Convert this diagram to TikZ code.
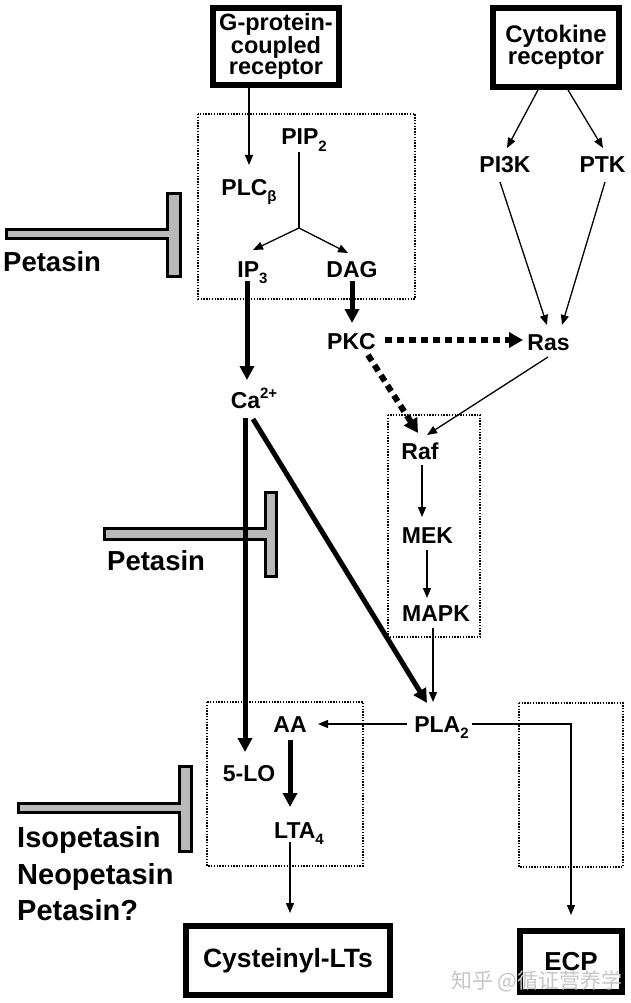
\documentclass[tikz,border=0pt]{standalone}
\usepackage{fontspec}
\setmainfont{Liberation Sans}
\newfontfamily\cjkfont{Noto Sans CJK SC}
\usetikzlibrary{arrows.meta,calc}
\newcommand\sbx[1]{\raisebox{-0.28em}{\fontsize{15}{15}\selectfont #1}}
\newcommand\spx[1]{\raisebox{0.42em}{\fontsize{15}{15}\selectfont #1}}
\begin{document}
\begin{tikzpicture}[x=1pt,y=-1pt,
 lbl/.style={inner sep=0pt, anchor=base, font=\bfseries\fontsize{23}{23}\selectfont},
 biglbl/.style={inner sep=0pt, anchor=base west, font=\bfseries\fontsize{27.5}{27.5}\selectfont},
 hugelbl/.style={inner sep=0pt, anchor=base west, font=\bfseries\fontsize{29}{29}\selectfont},
 endbox/.style={draw, line width=6pt, inner sep=0pt, align=center},
 thinarr/.style={line width=1.3pt, -{Triangle[length=10pt,width=8pt]}},
 thickarr/.style={line width=5pt, -{Triangle[length=14pt,width=14pt]}},
 dasharr/.style={line width=6pt, dash pattern=on 7pt off 5pt, -{Triangle[length=14pt,width=15pt]}},
 dotbox/.style={line width=1.4pt, dash pattern=on 1.4pt off 1.4pt},
 inhib/.style={fill=gray!55, draw, line width=3pt, line join=miter}]
\useasboundingbox (0,0) rectangle (630,1003);

% dotted compartments
\draw[dotbox] (198,114) rectangle (415,299);
\draw[dotbox] (388,415) rectangle (480,637);
\draw[dotbox] (207,702) rectangle (363,866);
\draw[dotbox] (519,703) rectangle (623,867);

% receptor and output boxes
\node[endbox, minimum width=126pt, minimum height=77pt,
      font=\bfseries\fontsize{23.5}{19}\selectfont] (gpcr) at (276,46.5) {G-protein-\\coupled\\receptor};
\node[endbox, minimum width=126pt, minimum height=79pt,
      font=\bfseries\fontsize{24}{19.5}\selectfont] (cyto) at (556,47.5) {Cytokine\\receptor};
\node[endbox, minimum width=204pt, minimum height=69pt,
      font=\bfseries\fontsize{26.5}{26.5}\selectfont] (cys) at (288,960.5) {Cysteinyl-LTs};
\node[endbox, minimum width=102pt, minimum height=61pt,
      font=\bfseries\fontsize{26}{26}\selectfont] (ecp) at (571,961.5) {ECP};

% labels
\node[lbl] (pip) at (304,145) {PIP\sbx{2}};
\node[lbl] (plc) at (249,195) {PLC\sbx{β}};
\node[lbl] (ip3) at (252.5,277) {IP\sbx{3}};
\node[lbl] (dag) at (352,277) {DAG};
\node[lbl] (pkc) at (351.5,349) {PKC};
\node[lbl] (ras) at (548.5,350) {Ras};
\node[lbl] (pi3k) at (505,172) {PI3K};
\node[lbl] (ptk) at (602.5,172) {PTK};
\node[lbl] (ca) at (254,408) {Ca\spx{2+}};
\node[lbl] (raf) at (420,459) {Raf};
\node[lbl] (mek) at (427.5,543) {MEK};
\node[lbl] (mapk) at (436,621) {MAPK};
\node[lbl] (pla) at (441.5,732) {PLA\sbx{2}};
\node[lbl] (aa) at (290,732) {AA};
\node[lbl] (lo5) at (249,781) {5-LO};
\node[lbl] (lta) at (299,838) {LTA\sbx{4}};

% inhibitors
\draw[inhib] (6.5,229.5) -- (167.5,229.5) -- (167.5,193.5) -- (180.5,193.5) -- (180.5,276.5)
  -- (167.5,276.5) -- (167.5,238.5) -- (6.5,238.5) -- cycle;
\draw[inhib] (104.5,528.5) -- (265.5,528.5) -- (265.5,492.5) -- (276.5,492.5) -- (276.5,576.5)
  -- (265.5,576.5) -- (265.5,539.5) -- (104.5,539.5) -- cycle;
\draw[inhib] (18.5,803.5) -- (179.5,803.5) -- (179.5,766.5) -- (191.5,766.5) -- (191.5,851.5)
  -- (179.5,851.5) -- (179.5,812.5) -- (18.5,812.5) -- cycle;
\node[biglbl] (pet1) at (3,271) {Petasin};
\node[biglbl] (pet2) at (107,570) {Petasin};
\node[hugelbl] (iso) at (17,847) {Isopetasin};
\node[hugelbl] (neo) at (17,884) {Neopetasin};
\node[hugelbl] (pet3) at (17,920) {Petasin?};

% connectors
\coordinate (br) at (299,228);
\draw[thinarr] (gpcr.south -| plc.base) -- ($(plc.base)+(0,-30)$);
\draw[line width=1.3pt] ($(pip.base)+(-5,7)$) -- (br);
\draw[thinarr] (br) -- ($(ip3.base)+(0.5,-27)$);
\draw[thinarr] (br) -- ($(dag.base)+(-4,-24)$);
\draw[thickarr] ($(ip3.base)+(-5.5,4)$) -- ($(ca.base)+(-7,-28)$);
\draw[thickarr] ($(dag.base)+(0,4)$) -- ($(pkc.base)+(0.5,-26)$);
\draw[dasharr] ($(pkc.base)+(33.5,-9)$) -- ($(ras.base)+(-25.5,-10)$);
\draw[thinarr] ($(cyto.south)+(-18,0)$) -- ($(pi3k.base)+(2,-24)$);
\draw[thinarr] ($(cyto.south)+(12,0)$) -- ($(ptk.base)+(0.5,-24)$);
\draw[thinarr] ($(pi3k.base)+(-5,10)$) -- ($(ras.base)+(-1.5,-25)$);
\draw[thinarr] ($(ptk.base)+(2.5,10)$) -- ($(ras.base)+(13.5,-25)$);
\draw[thinarr] ($(ras.base)+(-0.5,7)$) -- ($(raf.base)+(7,-24)$);
\draw[dasharr] ($(pkc.base)+(16.5,6)$) -- ($(raf.base)+(-2,-26)$);
\draw[thinarr] ($(raf.base)+(2,6)$) -- ($(mek.base)+(-5.5,-26)$);
\draw[thinarr] ($(mek.base)+(-0.5,7)$) -- ($(mapk.base)+(-9,-23)$);
\draw[thinarr] ($(mapk.base)+(-3,7)$) -- ($(pla.base)+(-8.5,-30)$);
\draw[thickarr] ($(ca.base)+(-1,11)$) -- ($(pla.base)+(-14.5,-29)$);
\draw[thickarr] ($(ca.base)+(-9,10)$) -- ($(lo5.base)+(-4,-29)$);
\draw[thinarr] ($(pla.base)+(-34.5,-8)$) -- ($(aa.base)+(28,-8)$);
\draw[thinarr] ($(pla.base)+(30.5,-8)$) -| ($(ecp.north)+(0,-13)$);
\draw[thickarr] ($(aa.base)+(0,8)$) -- ($(lta.base)+(-9,-31)$);
\draw[thinarr] ($(lta.base)+(-9,4)$) -- ($(cys.north)+(2,-10)$);

% watermark
\node[font=\cjkfont\fontsize{21}{21}\selectfont, text=gray!45, anchor=base, inner sep=0pt] (wm) at (537,988) {知乎 @循证营养学};
\end{tikzpicture}
\end{document}
